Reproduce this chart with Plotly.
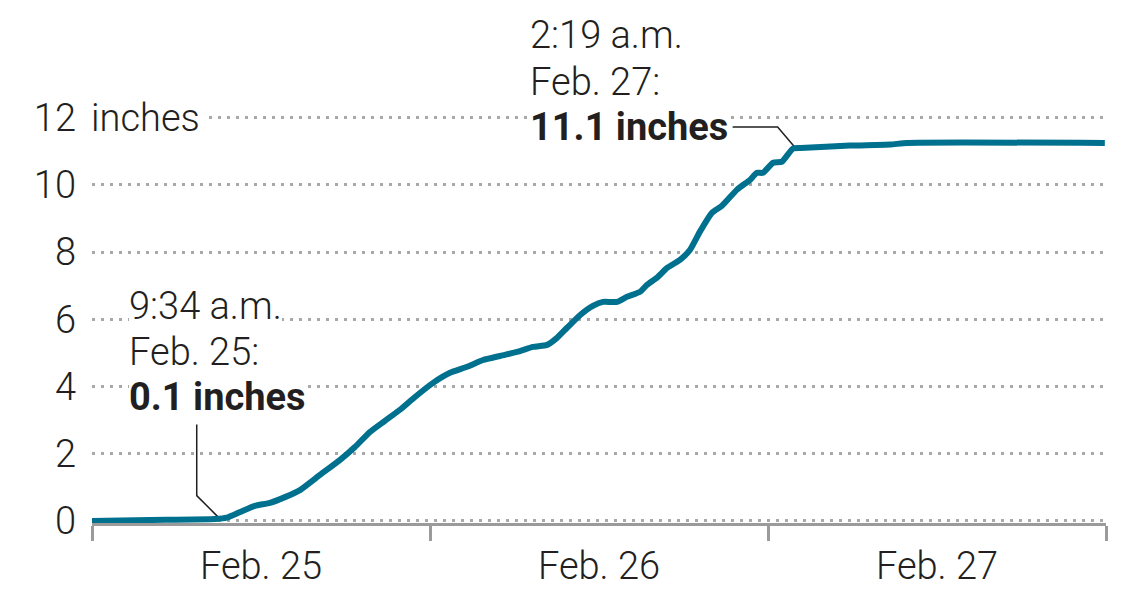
import plotly.graph_objects as go

# Cumulative snowfall (inches) by time
times = [
    "2023-02-25 00:00", "2023-02-25 04:07", "2023-02-25 08:44", "2023-02-25 09:34",
    "2023-02-25 10:31", "2023-02-25 11:34", "2023-02-25 12:38", "2023-02-25 13:42",
    "2023-02-25 14:46", "2023-02-25 16:11", "2023-02-25 17:37", "2023-02-25 18:40",
    "2023-02-25 19:44", "2023-02-25 20:48", "2023-02-25 21:52", "2023-02-25 22:56",
    "2023-02-26 00:13", "2023-02-26 01:25", "2023-02-26 02:38", "2023-02-26 03:46",
    "2023-02-26 04:58", "2023-02-26 06:11", "2023-02-26 07:19", "2023-02-26 08:19",
    "2023-02-26 09:01", "2023-02-26 09:44", "2023-02-26 10:40", "2023-02-26 11:34",
    "2023-02-26 12:17", "2023-02-26 13:17", "2023-02-26 13:59", "2023-02-26 14:55",
    "2023-02-26 15:25", "2023-02-26 16:07", "2023-02-26 16:50", "2023-02-26 17:45",
    "2023-02-26 18:28", "2023-02-26 19:10", "2023-02-26 20:01", "2023-02-26 20:44",
    "2023-02-26 21:48", "2023-02-26 22:43", "2023-02-26 23:13", "2023-02-26 23:38",
    "2023-02-27 00:22", "2023-02-27 00:59", "2023-02-27 01:46", "2023-02-27 02:19",
    "2023-02-27 05:49", "2023-02-27 08:40", "2023-02-27 09:52", "2023-02-27 23:55",
]
snow_inches = [
    0.0, 0.03, 0.06, 0.1,
    0.27, 0.45, 0.54, 0.71,
    0.92, 1.37, 1.82, 2.20,
    2.65, 2.98, 3.31, 3.69,
    4.11, 4.41, 4.59, 4.79,
    4.91, 5.03, 5.18, 5.24,
    5.45, 5.75, 6.13, 6.40,
    6.52, 6.52, 6.67, 6.82,
    7.03, 7.24, 7.53, 7.77,
    8.07, 8.61, 9.17, 9.38,
    9.86, 10.15, 10.36, 10.36,
    10.66, 10.69, 11.08, 11.1,
    11.17, 11.20, 11.25, 11.25,
]

annot_times = ["2023-02-25 09:34", "2023-02-27 02:19"]
annot_values = [0.1, 11.1]
annot_lines = [
    ["9:34 a.m.", "Feb. 25:", "<b>0.1 inches</b>"],
    ["2:19 a.m.", "Feb. 27:", "<b>11.1 inches</b>"],
]

y_ticks = [0, 2, 4, 6, 8, 10, 12]
y_ticktext = ["0", "2", "4", "6", "8", "10", "12"]
x_range = ["2023-02-25 00:00", "2023-02-28 00:00"]

FONT = "Roboto"
TXT = "#231f20"
LINE = "#00708f"
AXIS = "#9b9b9b"

fig = go.Figure()
fig.add_trace(go.Scatter(
    x=times, y=snow_inches, mode="lines",
    line=dict(color=LINE, width=6, shape="spline", smoothing=0.5),
    hoverinfo="skip", showlegend=False,
))

# annotation text lines
line_shifts = [
    dict(xshift=-98, yshifts=[212, 166, 121]),
    dict(xshift=-271, yshifts=[113, 66, 21]),
]
for i in range(2):
    for j, txt in enumerate(annot_lines[i]):
        fig.add_annotation(
            x=annot_times[i], y=annot_values[i], xref="x", yref="y",
            text=txt, showarrow=False, xanchor="left", yanchor="middle",
            xshift=line_shifts[i]["xshift"], yshift=line_shifts[i]["yshifts"][j],
            font=dict(family=FONT, size=38, color=TXT, weight=300 if j < 2 else 700),
            bgcolor="white", borderpad=0, borderwidth=0,
        )

# leader lines (pixel offsets from the annotated point)
leader_paths = ["M -9 1 L -30 22 L -30 93", "M -6 1 L -23 21 L -68 21"]
for i in range(2):
    fig.add_shape(
        type="path", xref="x", yref="y",
        xsizemode="pixel", ysizemode="pixel",
        xanchor=annot_times[i], yanchor=annot_values[i],
        path=leader_paths[i], line=dict(color=TXT, width=1.5),
        layer="below",
    )

# "inches" unit label next to the 12 tick
fig.add_annotation(
    x=0, y=12, xref="paper", yref="y", text="inches", showarrow=False,
    xanchor="left", yanchor="middle", xshift=-6,
    font=dict(family=FONT, size=38, color=TXT, weight=300),
    bgcolor="white", borderpad=5, borderwidth=0,
)

# page body has an 8px margin, so the margins are offset by 8px
fig.update_layout(
    width=1125, height=594,
    margin=dict(l=84, r=27, t=103, b=79, autoexpand=False),
    paper_bgcolor="white", plot_bgcolor="white",
    font=dict(family=FONT, size=38, color=TXT, weight=300),
    showlegend=False,
)
fig.update_xaxes(
    type="date", range=x_range, dtick=86400000, tick0=x_range[0],
    ticklabelmode="period", tickformat="%b. %-d",
    showgrid=False, zeroline=False, automargin=False,
    showline=True, linecolor=AXIS, linewidth=3,
    ticks="outside", ticklen=15, tickwidth=3, tickcolor=AXIS,
    ticklabelstandoff=-8,
    tickfont=dict(family=FONT, size=38, color=TXT, weight=300),
)
fig.update_yaxes(
    range=[-0.06, 12.2], tickvals=y_ticks, ticktext=y_ticktext,
    showgrid=True, gridcolor="#a8a8a8", gridwidth=3, griddash="3px,6px",
    zeroline=False, showline=False, ticks="", automargin=False,
    ticklabelstandoff=15,
    tickfont=dict(family=FONT, size=38, color=TXT, weight=300),
)

fig.write_html("out.html")
